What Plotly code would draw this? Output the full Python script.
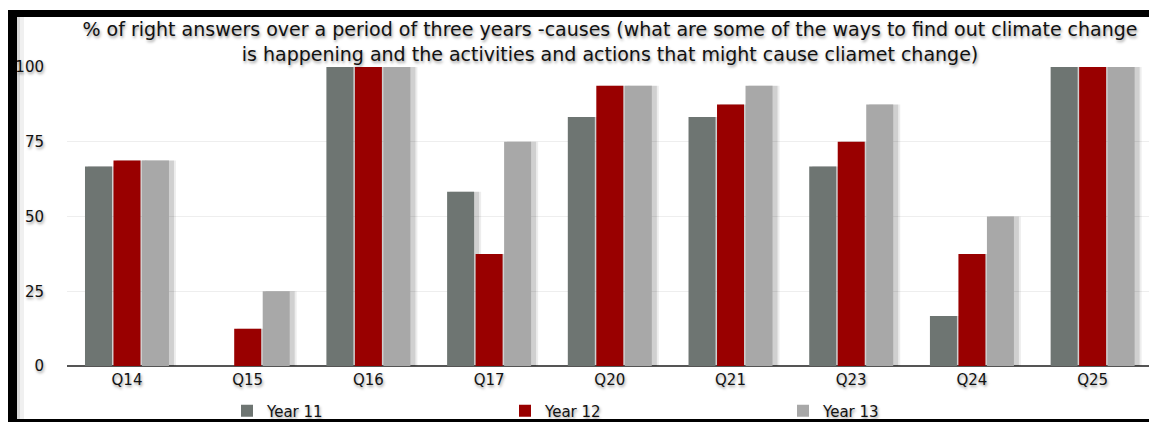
import plotly.graph_objects as go

categories = ["Q14", "Q15", "Q16", "Q17", "Q20", "Q21", "Q23", "Q24", "Q25"]
year11 = [66.7, 0, 100, 58.3, 83.3, 83.3, 66.7, 16.7, 100]
year12 = [68.75, 12.5, 100, 37.5, 93.75, 87.5, 75, 37.5, 100]
year13 = [68.75, 25, 100, 75, 93.75, 93.75, 87.5, 50, 100]
series_names = ["Year 11", "Year 12", "Year 13"]
colors = ["#6e7572", "#990000", "#a8a8a8"]
y_ticks = [0, 25, 50, 75, 100]
title_text = ("% of right answers over a period of three years -causes (what are some of the ways to find out climate change"
              "<br>is happening and the activities and actions that might cause cliamet change)")

W, H = 1149, 422
L, R, T, B = 67, 0, 67, 56
pw, ph = W - L - R, H - T - B
x_range = [-0.497, 8.467]
unit_px = pw / (x_range[1] - x_range[0])

def px(x):
    return (x - L) / pw

def py(y):
    return (H - B - y) / ph

shadow = "1px 2px 3px rgba(0,0,0,0.4)"
font_family = "DejaVu Sans, Verdana, sans-serif"

bar_w = 27 / unit_px
pitch = 28.5 / unit_px
offsets = [-pitch - bar_w / 2, -bar_w / 2, pitch - bar_w / 2]
sh_dx = 3 / unit_px

all_vals = [year11, year12, year13]

fig = go.Figure()
# soft shadows behind bars
for vals, off in zip(all_vals, offsets):
    for extra, alpha in [(4, 0.07), (2, 0.12)]:
        fig.add_trace(go.Bar(
            x=categories, y=vals, width=bar_w + extra / unit_px, offset=off + sh_dx,
            marker=dict(color=f"rgba(0,0,0,{alpha})", line=dict(width=0)),
            showlegend=False, hoverinfo="skip",
        ))
for name, vals, c, off in zip(series_names, all_vals, colors, offsets):
    fig.add_trace(go.Bar(
        name=name, x=categories, y=vals, width=bar_w, offset=off,
        marker=dict(color=c, line=dict(width=0)),
    ))

shapes = [
    dict(type="rect", xref="paper", yref="paper", x0=px(8), x1=px(1160), y0=py(10), y1=py(17),
         fillcolor="black", line=dict(width=0), layer="above"),
    dict(type="rect", xref="paper", yref="paper", x0=px(8), x1=px(17), y0=py(10), y1=py(430),
         fillcolor="black", line=dict(width=0), layer="above"),
    dict(type="rect", xref="paper", yref="paper", x0=px(8), x1=px(1160), y0=py(419), y1=py(430),
         fillcolor="black", line=dict(width=0), layer="above"),
    dict(type="rect", xref="paper", yref="paper", x0=px(17), x1=px(20), y0=py(17), y1=py(419),
         fillcolor="rgba(0,0,0,0.15)", line=dict(width=0), layer="above"),
    dict(type="rect", xref="paper", yref="paper", x0=px(20), x1=px(24), y0=py(17), y1=py(419),
         fillcolor="rgba(0,0,0,0.06)", line=dict(width=0), layer="above"),
]

fig.update_layout(
    width=W, height=H,
    margin=dict(l=L, r=R, t=T, b=B, pad=0, autoexpand=False),
    paper_bgcolor="white", plot_bgcolor="white",
    font=dict(family=font_family, color="#111111"),
    title=dict(text=title_text, x=px(610), xanchor="center", xref="paper",
               y=1 - 36 / H, yanchor="middle",
               font=dict(size=19, color="#111111", shadow=shadow)),
    barmode="overlay",
    showlegend=True,
    legend=dict(orientation="h", x=px(227), xanchor="left", y=py(411), yanchor="middle",
                entrywidth=233, entrywidthmode="pixels",
                font=dict(size=15, color="#111111", shadow=shadow),
                bgcolor="rgba(0,0,0,0)", itemclick=False, itemdoubleclick=False),
    xaxis=dict(range=x_range, showgrid=False, showline=False, zeroline=False,
               ticks="outside", ticklen=0, tickcolor="rgba(0,0,0,0)",
               tickfont=dict(size=15, color="#111111", shadow=shadow)),
    yaxis=dict(range=[0, 100], tickvals=y_ticks, showgrid=True, gridcolor="#eeeeee",
               gridwidth=1, zeroline=True, zerolinecolor="#555555", zerolinewidth=1.5,
               showline=False, ticks="outside", ticklen=19, tickcolor="rgba(0,0,0,0)",
               tickfont=dict(size=15, color="#111111", shadow=shadow)),
    shapes=shapes,
)

fig.write_html("out.html")
